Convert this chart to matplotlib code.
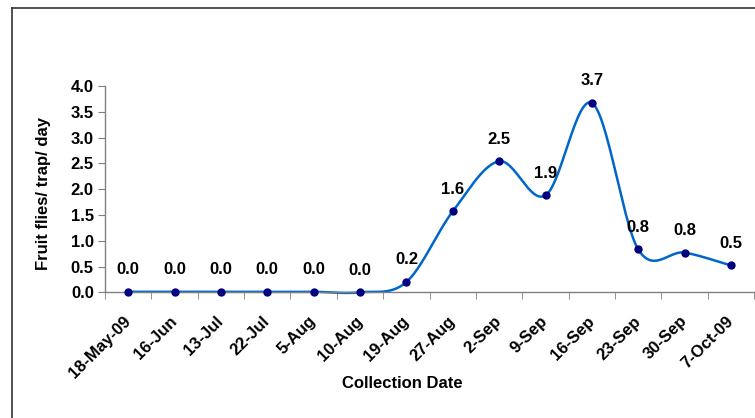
import numpy as np
import matplotlib
matplotlib.use('Agg')
import matplotlib.pyplot as plt
from matplotlib.lines import Line2D
from matplotlib.transforms import ScaledTranslation

plt.rcParams['font.family'] = ['Liberation Sans', 'DejaVu Sans']

# DATA
dates = ['18-May-09', '16-Jun', '13-Jul', '22-Jul', '5-Aug', '10-Aug', '19-Aug',
         '27-Aug', '2-Sep', '9-Sep', '16-Sep', '23-Sep', '30-Sep', '7-Oct-09']
flies = [0.01, 0.01, 0.01, 0.01, 0.01, 0.0, 0.2, 1.57, 2.54, 1.88, 3.67, 0.83, 0.77, 0.52]
y_ticks = [0.0, 0.5, 1.0, 1.5, 2.0, 2.5, 3.0, 3.5, 4.0]

LINE_COL = '#0066CC'
MARK_COL = '#000080'
AX_COL = '#808080'
FS = 12


def smooth_curve(xs, ys, steps=30):
    # Excel-style smoothed line (Catmull-Rom through the points)
    p = np.column_stack([xs, ys]).astype(float)
    p = np.vstack([p[0], p, p[-1]])
    out = []
    for i in range(1, len(p) - 2):
        p0, p1, p2, p3 = p[i - 1], p[i], p[i + 1], p[i + 2]
        c1 = p1 + (p2 - p0) / 6.0
        c2 = p2 - (p3 - p1) / 6.0
        t = np.linspace(0, 1, steps)[:, None]
        seg = ((1 - t) ** 3) * p1 + 3 * ((1 - t) ** 2) * t * c1 + 3 * (1 - t) * t ** 2 * c2 + t ** 3 * p2
        out.append(seg if i == 1 else seg[1:])
    out = np.vstack(out)
    return out[:, 0], out[:, 1]


fig = plt.figure(figsize=(7.55, 4.18), dpi=100)
ax = fig.add_axes([0.139, 0.3007, 0.86, 0.4936])

x = np.arange(len(dates))
sx, sy = smooth_curve(x, flies)
ax.plot(sx, sy, color=LINE_COL, linewidth=1.8, zorder=2, clip_on=False)
ax.plot(x, flies, linestyle='none', marker='o', markersize=5,
        color=MARK_COL, zorder=3, clip_on=False)

for xi, v in zip(x, flies):
    ax.annotate(f'{v:.1f}', (xi, v), xytext=(0, 16), textcoords='offset points',
                ha='center', va='center', fontsize=FS, fontweight='bold')

ax.set_xlim(-0.5, len(dates) - 0.5)
ax.set_ylim(0, 4.0)
ax.set_yticks(y_ticks)
ax.set_yticklabels([f'{t:.1f}' for t in y_ticks], fontsize=FS, fontweight='bold')

ax.set_xticks(x)
ax.set_xticklabels(dates, fontsize=FS, fontweight='bold', rotation=45,
                   ha='right', va='center', rotation_mode='anchor')
shift = ScaledTranslation(-0.06, 0, fig.dpi_scale_trans)
for lab in ax.get_xticklabels():
    lab.set_transform(lab.get_transform() + shift)
ax.set_xticks(np.arange(-0.5, len(dates)), minor=True)
ax.tick_params(axis='x', which='major', length=0, pad=19)
ax.tick_params(axis='x', which='minor', length=5, color=AX_COL, direction='out')
ax.tick_params(axis='y', length=5, color=AX_COL, direction='out', pad=3)

for s in ['top', 'right']:
    ax.spines[s].set_visible(False)
for s in ['left', 'bottom']:
    ax.spines[s].set_color(AX_COL)
    ax.spines[s].set_linewidth(1.0)

fig.text(44 / 755, 1 - 194 / 418, 'Fruit flies/ trap/ day', rotation=90,
         ha='center', va='center', fontsize=FS, fontweight='bold')
fig.text(402 / 755, 1 - 383 / 418, 'Collection Date', ha='center', va='center',
         fontsize=FS, fontweight='bold')

# chart border (top and left edges visible)
fig.add_artist(Line2D([12 / 755, 12 / 755], [0, 1 - 8 / 418], transform=fig.transFigure,
                      color='#333333', linewidth=1.2))
fig.add_artist(Line2D([12 / 755, 1], [1 - 8 / 418, 1 - 8 / 418], transform=fig.transFigure,
                      color='#333333', linewidth=1.2))

fig.savefig('out.png', dpi=100)
